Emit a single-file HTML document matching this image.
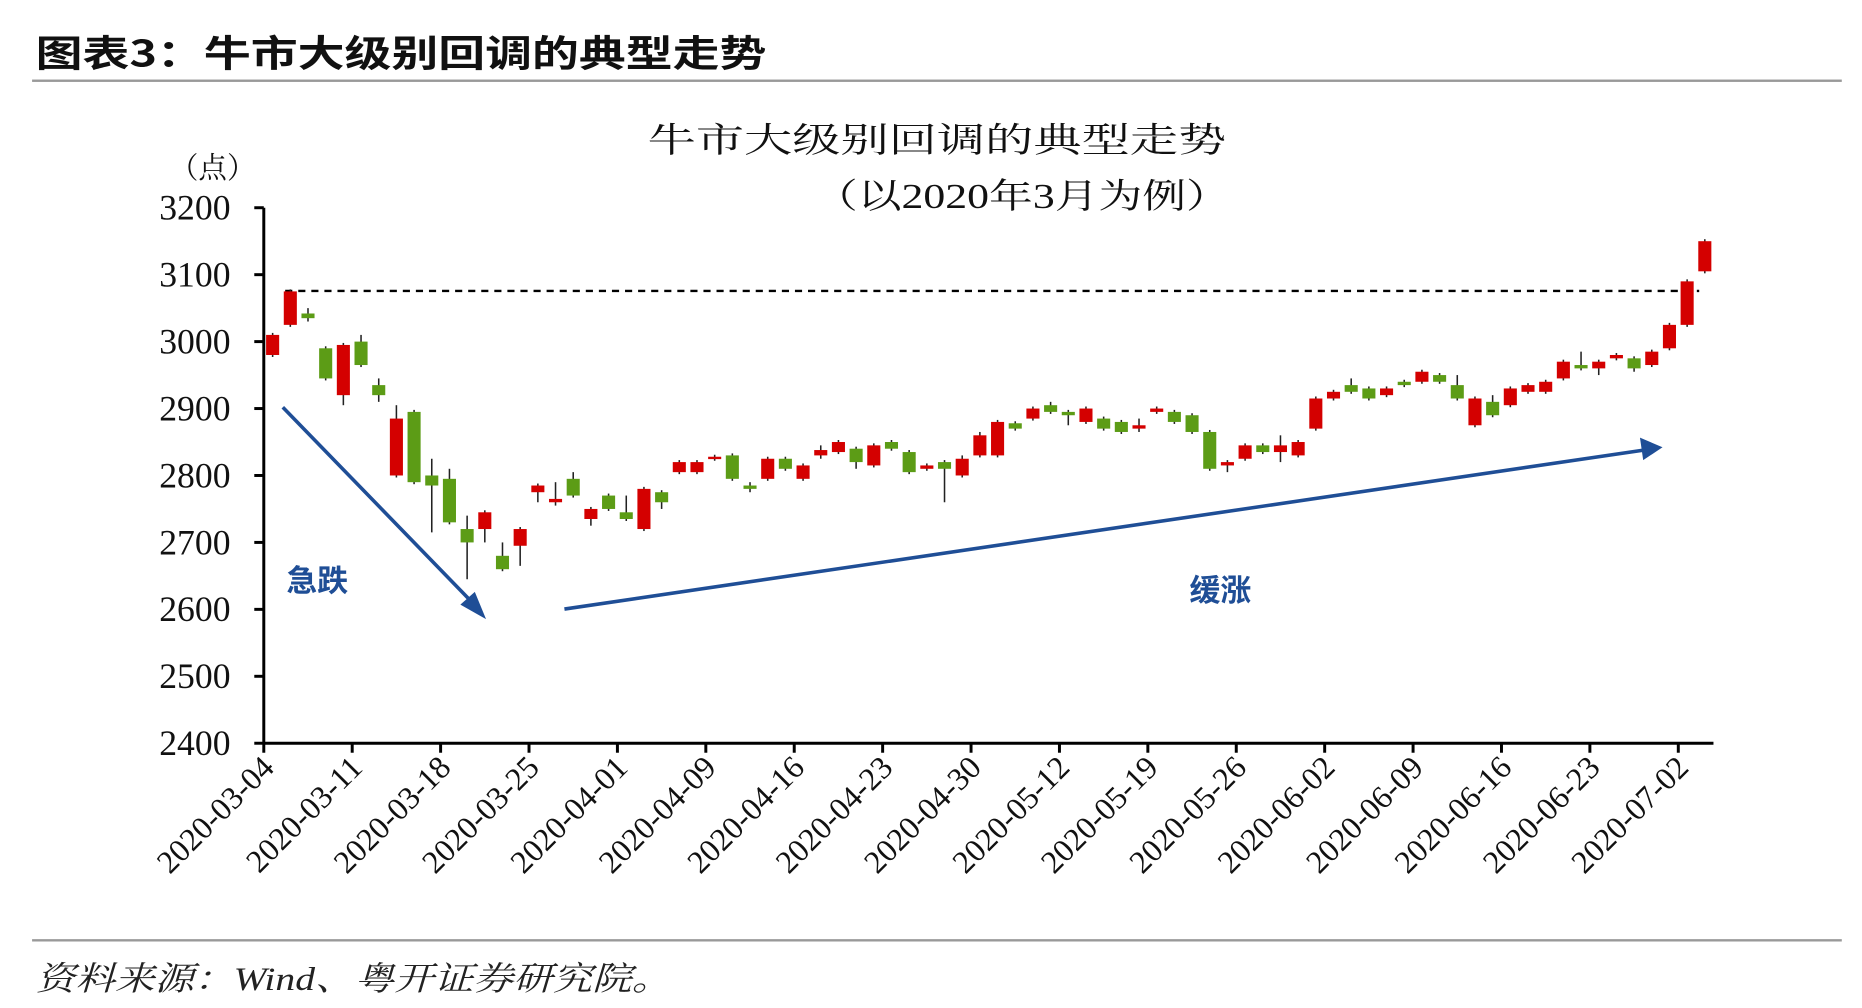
<!DOCTYPE html>
<html><head><meta charset="utf-8"><style>
html,body{margin:0;padding:0;background:#fff;width:1862px;height:1008px;overflow:hidden}
svg{display:block}
</style></head><body>
<svg id="s" width="1862" height="1008" viewBox="0 0 1567 849" preserveAspectRatio="none" xmlns="http://www.w3.org/2000/svg">
<text x="30" y="56" textLength="615" lengthAdjust="spacingAndGlyphs" font-family="'Noto Sans CJK SC',sans-serif" font-weight="bold" font-size="31" fill="#111">图表3：牛市大级别回调的典型走势</text>
<rect x="27" y="67" width="1523" height="2" fill="#999"/>
<text x="545" y="128" textLength="487" lengthAdjust="spacingAndGlyphs" font-family="'Liberation Serif','Noto Serif CJK SC',serif" font-size="29" fill="#111">牛市大级别回调的典型走势</text>
<text x="685" y="175" textLength="350" lengthAdjust="spacingAndGlyphs" font-family="'Liberation Serif','Noto Serif CJK SC',serif" font-size="29" fill="#111">（以2020年3月为例）</text>
<text x="143" y="150" textLength="72" lengthAdjust="spacingAndGlyphs" font-family="'Liberation Serif','Noto Serif CJK SC',serif" font-size="25" fill="#111">（点）</text>
<g id="ax" stroke="#000" stroke-width="2.5"><line x1="222" y1="175" x2="222" y2="627"/><line x1="221" y1="626" x2="1442" y2="626"/></g>
<g id="yl" font-family="'Liberation Serif',serif" font-size="30" fill="#111" text-anchor="end"></g>
<g id="xl" font-family="'Liberation Serif',serif" font-size="27" fill="#111" text-anchor="end"></g>
<line x1="240" y1="245" x2="1430" y2="245" stroke="#000" stroke-width="2" stroke-dasharray="6,5"/>
<g id="c"></g>
<g stroke="#1f4e96" stroke-width="3" fill="#1f4e96">
<line x1="238" y1="343" x2="399" y2="509"/><polygon points="406,518 390,509 399,501"/>
<line x1="475" y1="513" x2="1384" y2="379"/><polygon points="1396,377 1382,371 1384,385"/>
</g>
<text x="241" y="498" font-family="'Noto Sans CJK SC',sans-serif" font-weight="bold" font-size="26" fill="#1f4e96">急跌</text>
<text x="1001" y="506" font-family="'Noto Sans CJK SC',sans-serif" font-weight="bold" font-size="26" fill="#1f4e96">缓涨</text>
<rect x="27" y="791" width="1523" height="2" fill="#999"/>
<text x="30" y="834" textLength="535" lengthAdjust="spacingAndGlyphs" font-family="'Liberation Serif','Noto Serif CJK SC',serif" font-style="italic" font-size="28" fill="#222">资料来源：Wind、粤开证券研究院。</text>
</svg>
<script>
var NS="http://www.w3.org/2000/svg";
function el(p,t,a,txt){var e=document.createElementNS(NS,t);for(var k in a)e.setAttribute(k,a[k]);if(txt)e.textContent=txt;p.appendChild(e);return e;}
function Y(v){return 626-(v-2400)*0.5638;}
var yl=document.getElementById('yl'),ax=document.getElementById('ax');
for(var v=2400;v<=3200;v+=100){var y=Y(v);el(yl,'text',{x:194,y:y+10},String(v));el(ax,'line',{x1:214,y1:y,x2:222,y2:y});}
var dates=["2020-03-04","2020-03-11","2020-03-18","2020-03-25","2020-04-01","2020-04-09","2020-04-16","2020-04-23","2020-04-30","2020-05-12","2020-05-19","2020-05-26","2020-06-02","2020-06-09","2020-06-16","2020-06-23","2020-07-02"];
var xl=document.getElementById('xl');
for(var i=0;i<dates.length;i++){var x=222+i*74.4;el(ax,'line',{x1:x,y1:626,x2:x,y2:634});
el(xl,'text',{x:x+10,y:648,transform:'rotate(-45 '+(x+10)+' 648)'},dates[i]);}
var d=[
['r',2980,3010],['r',3025,3075],['g',3035,3042,3030,3050],['g',2945,2990],['r',2920,2995,2905],['g',2965,3000,0,3010],['g',2920,2935,2910,2945],['r',2800,2885,0,2905],['g',2790,2895],['g',2785,2800,2715,2825],
['g',2730,2795,0,2810],['g',2700,2720,2645,2740],['r',2720,2745,2700],['g',2660,2680,0,2700],['r',2695,2720,2665],['r',2775,2785,2760],['r',2760,2765,2755,2790],['g',2770,2795,0,2805],['r',2735,2750,2725],['g',2750,2770],
['g',2735,2745,0,2770],['r',2720,2780],['g',2760,2775,2750],['r',2805,2820],['r',2805,2820],['r',2825,2828],['g',2795,2830],['g',2780,2785,2775,2790],['r',2795,2825],['g',2810,2825],
['r',2795,2815],['r',2830,2838,2825,2845],['r',2835,2850],['g',2820,2840,2810],['r',2815,2845],['g',2840,2850],['g',2805,2835],['r',2810,2815],['g',2810,2820,2760],['r',2800,2825,0,2830],
['r',2830,2860,0,2865],['r',2830,2880],['g',2870,2878],['r',2885,2900],['g',2895,2905,0,2910],['g',2890,2895,2875],['r',2880,2900],['g',2870,2885],['g',2865,2880],['r',2870,2875,2865,2885],
['r',2895,2900],['g',2880,2895],['g',2865,2890],['g',2810,2865],['r',2815,2820,2805],['r',2825,2845],['g',2835,2845],['r',2835,2845,2820,2860],['r',2830,2850],['r',2870,2915],
['r',2915,2925],['g',2925,2935,0,2945],['g',2915,2930],['r',2920,2930],['g',2935,2940],['r',2940,2955],['g',2940,2950],['g',2915,2935,0,2950],['r',2875,2915],['g',2890,2910,0,2920],
['r',2905,2930],['r',2925,2935],['r',2925,2940],['r',2945,2970],['g',2960,2965,0,2985],['r',2960,2970,2950],['r',2975,2980],['g',2960,2975,2955],['r',2965,2985],['r',2990,3025],
['r',3025,3090],['r',3105,3150]];
var c=document.getElementById('c');
for(var i=0;i<d.length;i++){var k=d[i],x=222+14.88*(i+0.5);
var lo=k[3]?k[3]:k[1]-3,hi=k[4]?k[4]:k[2]+3;
el(c,'line',{x1:x,y1:Y(hi),x2:x,y2:Y(lo),stroke:'#222','stroke-width':1.3});
var h=Math.max(Y(k[1])-Y(k[2]),2);
el(c,'rect',{x:x-5.5,y:Y(k[2]),width:11,height:h,fill:k[0]=='r'?'#d40000':'#5c9c16'});}
</script>
</body></html>
